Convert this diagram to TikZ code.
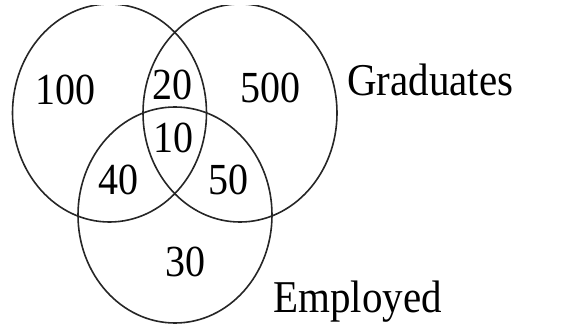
\documentclass[tikz,border=0pt]{standalone}
\usepackage{fontspec}
\setmainfont{Liberation Serif}
\usetikzlibrary{shapes.geometric}
\newcommand{\tallnum}[1]{\scalebox{1}[1.11]{#1}}
\tikzset{
  setring/.style={draw=black!85,line width=1.6pt,ellipse,inner sep=0pt,
    minimum width=194pt,minimum height=218pt},
  count/.style={inner sep=0pt,font=\fontsize{40}{40}\selectfont},
  setname/.style={inner sep=0pt,font=\fontsize{41}{41}\selectfont}
}
\begin{document}
\begin{tikzpicture}[x=1pt,y=-1pt]
  \useasboundingbox (0,0) rectangle (588,326);
  \clip (0,5.5) rectangle (588,326);
  % the three sets
  \node[setring] (lset) at (109.5,113) {};
  \node[setring] (grad) at (240,113) {};
  \node[setring,minimum height=216pt] (empl) at (175,215) {};
  % counts in each region
  \node[count] (nl) at (65,90) {\tallnum{100}};
  \node[count] (nlg) at (172,85) {\tallnum{20}};
  \node[count] (ng) at (270,88) {\tallnum{500}};
  \node[count] (nall) at (173,138) {\tallnum{10}};
  \node[count] (nle) at (118,180) {\tallnum{40}};
  \node[count] (nge) at (228,180) {\tallnum{50}};
  \node[count] (ne) at (185,262) {\tallnum{30}};
  % set names
  \node[setname,anchor=west] (gradname) at (347,80) {\tallnum{Graduates}};
  \node[setname,anchor=base west] (emplname) at (273,312) {\tallnum{Employed}};
\end{tikzpicture}
\end{document}
